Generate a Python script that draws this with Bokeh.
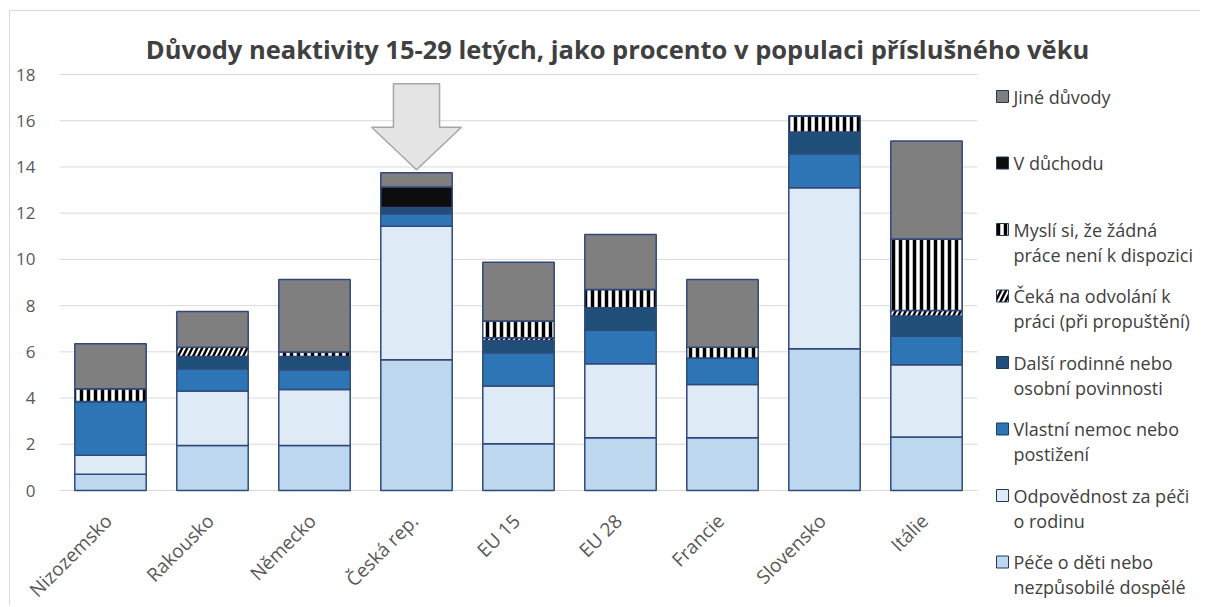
import numpy as np
from bokeh.plotting import figure
from bokeh.models import Range1d
from bokeh.core.properties import value
from bokeh.embed import file_html
from bokeh.resources import INLINE

# ---------------- data ----------------
countries = ["Nizozemsko", "Rakousko", "Německo", "Česká rep.", "EU 15",
             "EU 28", "Francie", "Slovensko", "Itálie"]
pece   = [0.70, 1.95, 1.95, 5.66, 2.02, 2.28, 2.28, 6.13, 2.31]
odp    = [0.82, 2.35, 2.42, 5.77, 2.50, 3.20, 2.31, 6.97, 3.13]
nemoc  = [2.33, 0.97, 0.85, 0.55, 1.44, 1.45, 1.14, 1.47, 1.23]
dalsi  = [0.00, 0.53, 0.58, 0.26, 0.53, 0.98, 0.00, 0.94, 0.88]
ceka   = [0.00, 0.40, 0.00, 0.00, 0.12, 0.00, 0.00, 0.00, 0.24]
mysli  = [0.55, 0.00, 0.19, 0.00, 0.72, 0.79, 0.47, 0.69, 3.09]
duchod = [0.00, 0.00, 0.00, 0.89, 0.00, 0.00, 0.00, 0.00, 0.00]
jine   = [1.95, 1.55, 3.14, 0.62, 2.55, 2.38, 2.93, 0.00, 4.24]

series = [pece, odp, nemoc, dalsi, ceka, mysli, duchod, jine]
labels = ["Péče o děti nebo\nnezpůsobilé dospělé",
          "Odpovědnost za péči\no rodinu",
          "Vlastní nemoc nebo\npostižení",
          "Další rodinné nebo\nosobní povinnosti",
          "Čeká na odvolání k\npráci (při propuštění)",
          "Myslí si, že žádná\npráce není k dispozici",
          "V důchodu",
          "Jiné důvody"]
y_ticks = list(range(0, 19, 2))
y_tick_labels = [str(t) for t in y_ticks]
y_max = 18
title_text = "Důvody neaktivity 15-29 letých, jako procento v populaci příslušného věku"
highlight = "Česká rep."

# ---------------- styles ----------------
styles = [
    dict(fill_color="#BDD7EE"),
    dict(fill_color="#DEEBF7"),
    dict(fill_color="#2E75B6"),
    dict(fill_color="#1F4E79"),
    dict(fill_color="#000000", hatch_pattern="/", hatch_color="white", hatch_scale=10, hatch_weight=2),
    dict(fill_color="#FFFFFF", hatch_pattern="|", hatch_color="black", hatch_scale=7, hatch_weight=3.5),
    dict(fill_color="#0D0D0D"),
    dict(fill_color="#7F7F7F"),
]
edge = "#2F4A7A"
FONT = "Open Sans"
GRAY = "#595959"

# ---------------- geometry (canvas pixels) ----------------
W, H = 1200, 605
PL = 59                 # left edge of bar area
PT, PB = 74, 490        # pixel rows of y_max and 0
CAT_PX = 102.0          # width of one category slot
UNIT_PX = (PB - PT) / y_max

def dx(cx):             # canvas x -> data x
    return (cx - PL) / CAT_PX

def dy(cy):             # canvas y -> data y
    return (PB - cy) / UNIT_PX

p = figure(x_range=Range1d(dx(0), dx(W)), y_range=Range1d(dy(H), dy(0)),
           width=W, height=H, output_backend="svg", toolbar_location=None,
           min_border=0)
p.outline_line_color = None
p.grid.visible = False
p.axis.visible = False

n = len(countries)
xc = np.arange(n) + 0.5

# horizontal grid lines over the category area
p.segment(x0=[0] * len(y_ticks), x1=[n] * len(y_ticks), y0=y_ticks, y1=y_ticks,
          line_color="#D9D9D9", line_width=1)

# y tick labels
p.text(x=[dx(35)] * len(y_ticks), y=y_ticks, text=y_tick_labels,
       text_font=value(FONT), text_font_size="17px", text_color=GRAY,
       text_align="right", text_baseline="middle")

# stacked bars
bottom = np.zeros(n)
for vals, st in zip(series, styles):
    v = np.array(vals, dtype=float)
    p.vbar(x=xc, bottom=bottom, top=bottom + v, width=0.7,
           line_color=edge, line_width=1.5, **st)
    bottom = bottom + v

# category labels (rotated 45°)
p.text(x=xc - 2 / CAT_PX, y=[dy(PB + 27)] * n, text=countries, angle=np.pi / 4,
       text_font=value(FONT), text_font_size="19px", text_color=GRAY,
       text_align="right", text_baseline="middle")

# arrow above highlighted bar
hi = countries.index(highlight)
ci = xc[hi]
tip = bottom[hi] + 0.13
base = tip + 1.84
top = tip + 3.72
sw, hw = 0.226, 0.44
p.patch(x=[ci - sw, ci + sw, ci + sw, ci + hw, ci, ci - hw, ci - sw],
        y=[top, top, base, base, tip, base, base],
        fill_color="#E4E4E4", line_color="#A6A6A6", line_width=1.5)

# title
p.text(x=[dx(617)], y=[dy(48)], text=[title_text], text_font=value(FONT),
       text_font_size="25.5px", text_font_style="bold", text_color="#404040",
       text_align="center", text_baseline="middle")

# legend (top entry = last series)
for k, i in enumerate(range(len(series) - 1, -1, -1)):
    cy = 96 + 66.5 * k
    p.rect(x=[dx(1002)], y=[dy(cy)], width=12, height=12, width_units="screen",
           height_units="screen", line_color="#1F3A60", line_width=1, **styles[i])
    lines = labels[i].split("\n")
    p.text(x=[dx(1013)] * len(lines), y=[dy(cy + 25 * j) for j in range(len(lines))],
           text=lines, text_font=value(FONT), text_font_size="18px",
           text_color="#404040", text_baseline="middle", text_align="left")

# chart border (left and top)
p.segment(x0=[dx(9), dx(9)], y0=[dy(10), dy(10)], x1=[dx(9), dx(W)], y1=[dy(H), dy(10)],
          line_color="#D9D9D9", line_width=1)

open("out.html", "w").write(file_html(p, INLINE))
